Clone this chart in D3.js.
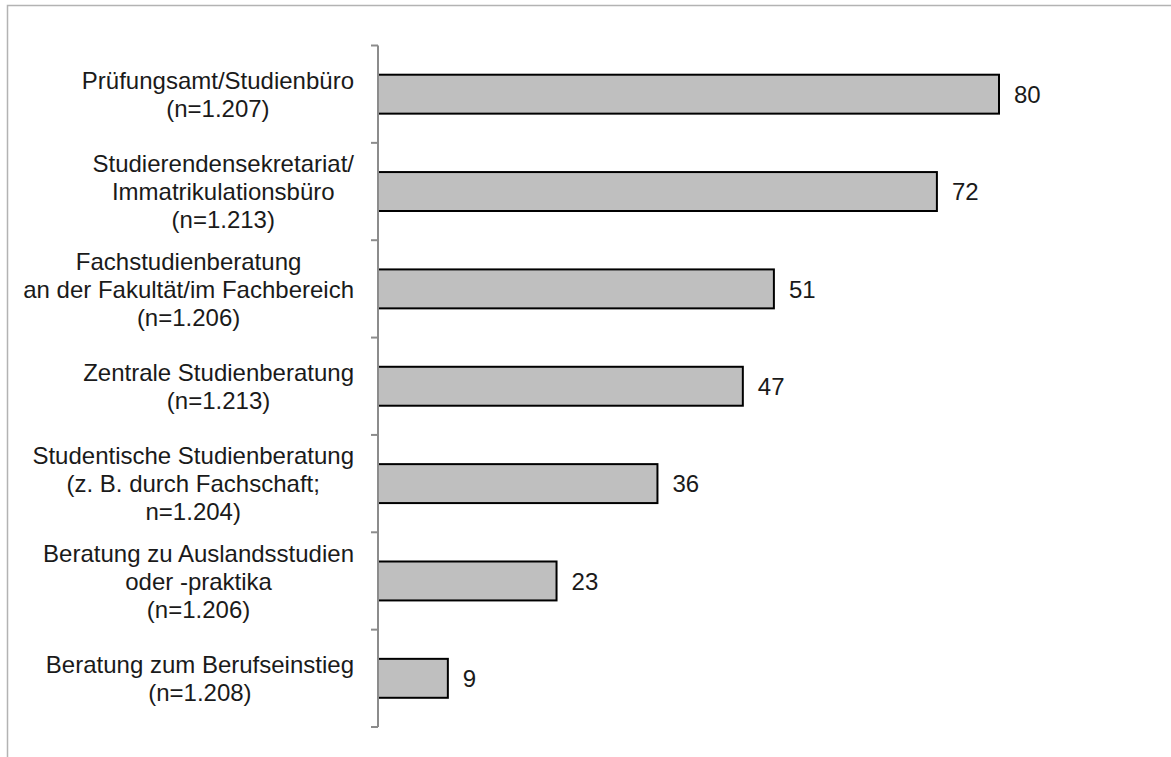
<!DOCTYPE html>
<html>
<head>
<meta charset="utf-8">
<script src="https://cdn.jsdelivr.net/npm/d3@7"></script>
<style>
  html, body { margin: 0; padding: 0; background: #fff; }
  svg { display: block; }
  text { font-family: "Liberation Sans", Arial, sans-serif; fill: #1a1a1a; }
</style>
</head>
<body>
<svg id="chart" width="1171" height="757"></svg>
<script>
// ---- data ----
const categories = [
  ["Prüfungsamt/Studienbüro", "(n=1.207)"],
  ["Studierendensekretariat/", "Immatrikulationsbüro", "(n=1.213)"],
  ["Fachstudienberatung", "an der Fakultät/im Fachbereich", "(n=1.206)"],
  ["Zentrale Studienberatung", "(n=1.213)"],
  ["Studentische Studienberatung", "(z. B. durch Fachschaft;", "n=1.204)"],
  ["Beratung zu Auslandsstudien", "oder -praktika", "(n=1.206)"],
  ["Beratung zum Berufseinstieg", "(n=1.208)"]
];
const values = [80, 72, 51, 47, 36, 23, 9];

// ---- layout ----
const svg = d3.select("#chart");
const axisX = 378, plotTop = 45.5, plotBottom = 727;
const fontSize = 24, lineH = 28;

svg.append("rect")
  .attr("x", 7.5).attr("y", 5.5)
  .attr("width", 1200).attr("height", 800)
  .attr("fill", "none").attr("stroke", "#b3b3b3").attr("stroke-width", 1.5);

const ids = categories.map((d, i) => i);
const y = d3.scaleBand().domain(ids).range([plotTop, plotBottom]).paddingInner(0.6).paddingOuter(0.3);
const yTicks = d3.scaleBand().domain(ids).range([plotTop, plotBottom]);
const x = d3.scaleLinear().domain([0, 80]).range([axisX, 999]);

// bars
svg.append("g").selectAll("rect")
  .data(values)
  .join("rect")
  .attr("x", x(0))
  .attr("y", (d, i) => y(i))
  .attr("width", d => x(d) - x(0))
  .attr("height", y.bandwidth())
  .attr("fill", "#bfbfbf")
  .attr("stroke", "#000")
  .attr("stroke-width", 2);

// axis line + ticks at band boundaries
const axisG = svg.append("g");
axisG.append("line")
  .attr("x1", axisX).attr("x2", axisX)
  .attr("y1", plotTop).attr("y2", plotBottom)
  .attr("stroke", "#8c8c8c").attr("stroke-width", 2);
const boundaries = ids.map(i => yTicks(i)).concat([plotBottom]);
axisG.selectAll("line.tick")
  .data(boundaries)
  .join("line")
  .attr("class", "tick")
  .attr("x1", axisX - 7).attr("x2", axisX)
  .attr("y1", d => d).attr("y2", d => d)
  .attr("stroke", "#8c8c8c").attr("stroke-width", 2);

// category labels (lines centered with each other, block right-aligned)
const labelRight = 354;
categories.forEach((lines, i) => {
  const cy = yTicks(i) + yTicks.bandwidth() / 2;
  const g = svg.append("g");
  const texts = lines.map((ln, j) =>
    g.append("text")
      .attr("font-size", fontSize)
      .attr("text-anchor", "middle")
      .attr("y", cy + (j - (lines.length - 1) / 2) * lineH + fontSize * 0.36)
      .text(ln)
  );
  const maxW = d3.max(texts, t => t.node().getComputedTextLength());
  texts.forEach(t => t.attr("x", labelRight - maxW / 2));
});

// value labels
svg.append("g").selectAll("text")
  .data(values)
  .join("text")
  .attr("font-size", fontSize)
  .attr("x", d => x(d) + 15)
  .attr("y", (d, i) => y(i) + y.bandwidth() / 2 + fontSize * 0.36)
  .text(d => d);
</script>
</body>
</html>
